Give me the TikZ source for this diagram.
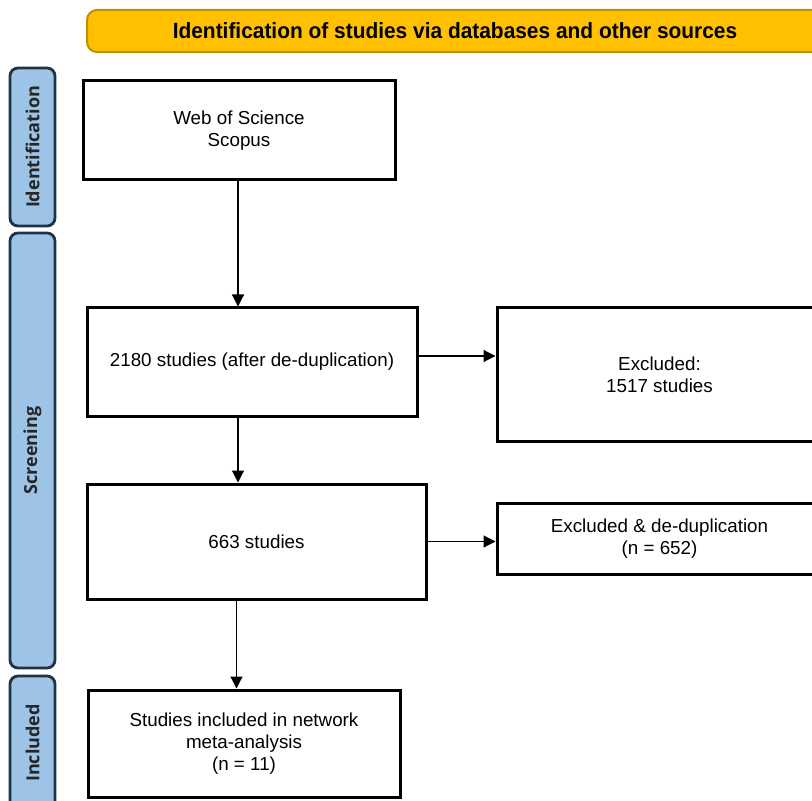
\documentclass[tikz,border=0pt]{standalone}
\usepackage{fontspec}
\setmainfont{Liberation Sans}
\newfontfamily\headfont[FakeStretch=0.95]{Liberation Sans}
\newfontfamily\sidefont{Open Sans}
\usetikzlibrary{arrows.meta}
\definecolor{hdrfill}{HTML}{FFC000}
\definecolor{hdrline}{HTML}{BF9000}
\definecolor{barfill}{HTML}{9DC3E6}
\definecolor{barline}{HTML}{1F3347}
\tikzset{
  px/.style={x=0.5pt, y=-0.5pt},
  hdr/.style={fill=hdrfill, draw=hdrline, line width=1pt, rounded corners=5pt,
    minimum width=368pt, minimum height=21pt, font=\headfont\bfseries\fontsize{11}{13}\selectfont},
  sidebar/.style={fill=barfill, draw=barline, line width=1.4pt, rounded corners=4pt,
    rotate=90, minimum height=22.5pt, inner sep=0pt,
    font=\sidefont\bfseries\fontsize{9}{11}\selectfont, text=black!85},
  flowbox/.style={draw=black, line width=1.5pt, fill=white, align=center,
    inner sep=2pt, font=\fontsize{9.4}{11}\selectfont},
  arr/.style={black, line width=0.6pt, -{Triangle[length=6pt,width=6pt]}},
}
\begin{document}
\begin{tikzpicture}[px]
  \useasboundingbox (0,0) rectangle (812,801);
  \clip (0,0) rectangle (812,801);
  % header and phase bars
  \node[hdr] (header) at (455,31) {Identification of studies via databases and other sources};
  \node[sidebar, minimum width=79pt] (idbar) at (32.5,147) {Identification};
  \node[sidebar, minimum width=217.5pt] (scrbar) at (32.5,450.5) {Screening};
  \node[sidebar, minimum width=67pt] (incbar) at (32.5,743) {Included};
  % flow boxes
  \node[flowbox, minimum width=156pt, minimum height=49.5pt] (wos) at (239,130.5) {Web of Science\\Scopus};
  \node[flowbox, minimum width=165pt, minimum height=54pt] (dedup) at (252,362) {2180 studies (after de-duplication)};
  \node[flowbox, minimum width=162.5pt, minimum height=66.5pt] (excl1) at (659.5,374.5) {Excluded:\\1517 studies};
  \node[flowbox, minimum width=169.5pt, minimum height=57.5pt] (s663) at (256.5,541.5) {663 studies};
  \node[flowbox, minimum width=162.5pt, minimum height=35.5pt] (excl2) at (659.5,538.5) {Excluded \& de-duplication\\(n = 652)};
  \node[flowbox, minimum width=156pt, minimum height=53.5pt] (incl) at (244,743.5) {Studies included in network\\meta-analysis\\(n = 11)};
  % connectors
  \draw[arr] ([xshift=-0.5pt]wos.south) -- ([xshift=-0.5pt]wos.south |- dedup.north);
  \draw[arr] ([xshift=-7pt]dedup.south) -- ([xshift=-7pt]dedup.south |- s663.north);
  \draw[arr] ([xshift=-10pt]s663.south) -- ([xshift=-10pt]s663.south |- incl.north);
  \draw[arr] ([yshift=3pt]dedup.east) -- ([yshift=3pt]dedup.east -| excl1.west);
  \draw[arr] (s663.east) -- (s663.east -| excl2.west);
\end{tikzpicture}
\end{document}
